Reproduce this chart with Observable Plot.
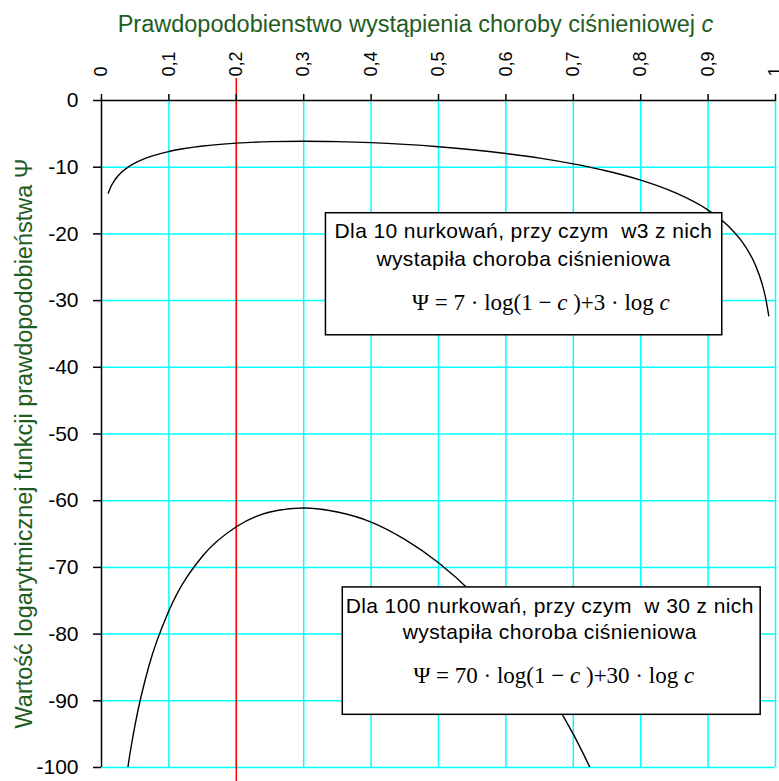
<!DOCTYPE html>
<html>
<head>
<meta charset="utf-8">
<script src="https://cdn.jsdelivr.net/npm/d3@7"></script>
<script src="https://cdn.jsdelivr.net/npm/@observablehq/plot@0.6"></script>
<style>
  body { margin: 0; background: #fff; }
  svg text { white-space: pre; }
</style>
</head>
<body>
<div id="chart"></div>
<script>
// Log-likelihood Ψ for 10 dives, 3 of them with decompression sickness
const cSmall = [0.01, 0.015, 0.02, 0.03, 0.04, 0.05, 0.07, 0.1, 0.15, 0.2, 0.25, 0.3, 0.35, 0.4, 0.45, 0.5,
  0.55, 0.6, 0.65, 0.7, 0.75, 0.8, 0.85, 0.9, 0.93, 0.95, 0.97, 0.98, 0.985, 0.99];
const psiSmall = [-13.89, -12.71, -11.88, -10.73, -9.94, -9.35, -8.49, -7.65, -6.83, -6.39, -6.17, -6.11, -6.17, -6.32, -6.58, -6.93,
  -7.38, -7.95, -8.64, -9.50, -10.57, -11.94, -13.77, -16.43, -18.83, -21.12, -24.64, -27.44, -29.44, -32.27];

// Log-likelihood Ψ for 100 dives, 30 of them with decompression sickness
const cLarge = [0.03, 0.04, 0.05, 0.07, 0.1, 0.15, 0.2, 0.25, 0.3, 0.35, 0.4, 0.45, 0.5, 0.55, 0.6, 0.65, 0.7, 0.72, 0.73];
const psiLarge = [-107.3, -99.4, -93.5, -84.9, -76.5, -68.3, -63.9, -61.7, -61.1, -61.7, -63.2, -65.8, -69.3, -73.8, -79.5, -86.4, -95.0, -99.0, -101.1];

// Axis ticks
const xTickValues = [0, 0.1, 0.2, 0.3, 0.4, 0.5, 0.6, 0.7, 0.8, 0.9, 1];
const xTickLabels = ["0", "0,1", "0,2", "0,3", "0,4", "0,5", "0,6", "0,7", "0,8", "0,9", "1"];
const yTickValues = [0, -10, -20, -30, -40, -50, -60, -70, -80, -90, -100];
const yTickLabels = ["0", "-10", "-20", "-30", "-40", "-50", "-60", "-70", "-80", "-90", "-100"];

// Highlighted probability
const markerC = [0.2];

// Texts
const xTitle = "Prawdopodobienstwo wystąpienia choroby ciśnieniowej c";
const yTitle = "Wartość logarytmicznej funkcji prawdopodobieństwa Ψ";
const noteSmallLines = ["Dla 10 nurkowań, przy czym  w3 z nich", "wystapiła choroba ciśnieniowa"];
const noteSmallFormula = "Ψ = 7 · log(1 − c )+3 · log c";
const noteLargeLines = ["Dla 100 nurkowań, przy czym  w 30 z nich", "wystapiła choroba ciśnieniowa"];
const noteLargeFormula = "Ψ = 70 · log(1 − c )+30 · log c";

const small = cSmall.map((c, i) => ({c, psi: psiSmall[i]}));
const large = cLarge.map((c, i) => ({c, psi: psiLarge[i]}));

const SANS = "'Liberation Sans', Arial, sans-serif";
const SERIF = "'Liberation Serif', 'Times New Roman', serif";
const GREEN = "#1f5c1f";
const GRID = "#00ffff";

const chart = Plot.plot({
  width: 779,
  height: 781,
  marginLeft: 101,
  marginRight: 4,
  marginTop: 100,
  marginBottom: 14,
  style: {fontFamily: SANS, background: "#fff", color: "#000", overflow: "visible"},
  x: {domain: [0, 1]},
  y: {domain: [-100, 0]},
  marks: [
    Plot.gridX(xTickValues.slice(1), {stroke: GRID, strokeOpacity: 1, strokeWidth: 1.5}),
    Plot.gridY(yTickValues.slice(1), {stroke: GRID, strokeOpacity: 1, strokeWidth: 1.5}),
    Plot.ruleX(markerC, {y1: 3.3, y2: -102.1, stroke: "#ff0000", strokeWidth: 1.5}),
    Plot.line(small, {x: "c", y: "psi", stroke: "#000", strokeWidth: 1.4, curve: "monotone-x", clip: true}),
    Plot.line(large, {x: "c", y: "psi", stroke: "#000", strokeWidth: 1.4, curve: "monotone-x", clip: true}),
    // annotation boxes
    Plot.rect([0], {x1: 0.333, x2: 0.921, y1: -16.9, y2: -35.2, fill: "#fff", stroke: "#000", strokeWidth: 1.5}),
    Plot.rect([0], {x1: 0.358, x2: 0.978, y1: -73.0, y2: -92.1, fill: "#fff", stroke: "#000", strokeWidth: 1.5}),
    Plot.text([noteSmallLines[0]], {x: 0.626, y: -19.6, text: d => d, fontSize: 21, fill: "#000"}),
    Plot.text([noteSmallLines[1]], {x: 0.626, y: -23.8, text: d => d, fontSize: 21, fill: "#000"}),
    Plot.text([noteSmallFormula], {x: 0.652, y: -30.3, text: d => d, fontSize: 23, fontFamily: SERIF, fill: "#000"}),
    Plot.text([noteLargeLines[0]], {x: 0.665, y: -75.8, text: d => d, fontSize: 21, fill: "#000"}),
    Plot.text([noteLargeLines[1]], {x: 0.665, y: -79.7, text: d => d, fontSize: 21, fill: "#000"}),
    Plot.text([noteLargeFormula], {x: 0.671, y: -86.3, text: d => d, fontSize: 23, fontFamily: SERIF, fill: "#000"}),
    // axis lines
    Plot.ruleY([0], {stroke: "#000", strokeWidth: 1.5}),
    Plot.ruleX([0], {stroke: "#000", strokeWidth: 1.5}),
    Plot.axisX(xTickValues, {
      anchor: "top", label: null, tickSize: 7, tickPadding: 17, tickRotate: -90,
      fontSize: 18, strokeWidth: 1.5, tickFormat: (d, i) => xTickLabels[i]
    }),
    Plot.axisY(yTickValues, {
      anchor: "left", label: null, tickSize: 8, tickPadding: 15,
      fontSize: 21, strokeWidth: 1.5, tickFormat: (d, i) => yTickLabels[i]
    }),
    // titles
    Plot.text([xTitle], {frameAnchor: "top", dx: -23, dy: -69, lineAnchor: "bottom", text: d => d, fontSize: 23.5, fill: GREEN}),
    Plot.text([yTitle], {frameAnchor: "left", dx: -77, dy: 9.5, rotate: -90, textAnchor: "middle", text: d => d, fontSize: 23.5, fill: GREEN})
  ]
});

const noteTexts = new Set([...noteSmallLines, ...noteLargeLines]);

// Set the variable c in italics within the formulas and the top title; loosen the note text a little
d3.select(chart).selectAll("text").each(function () {
  const el = d3.select(this);
  if (el.selectAll("tspan").size() > 0) return;
  const s = el.text();
  if (noteTexts.has(s)) { el.attr("letter-spacing", "0.4px"); return; }
  const isFormula = s.startsWith("Ψ =");
  const isTitle = s === xTitle;
  if (!isFormula && !isTitle) return;
  const parts = isFormula ? s.split(/(c)(?=[ )]|$)/) : [s.slice(0, -1), "c"];
  el.text(null);
  parts.forEach((p, k) => {
    if (!p) return;
    const t = el.append("tspan").text(p);
    if (p === "c" && (isFormula || k === parts.length - 1)) t.attr("font-style", "italic");
  });
});

document.getElementById("chart").append(chart);
</script>
</body>
</html>
